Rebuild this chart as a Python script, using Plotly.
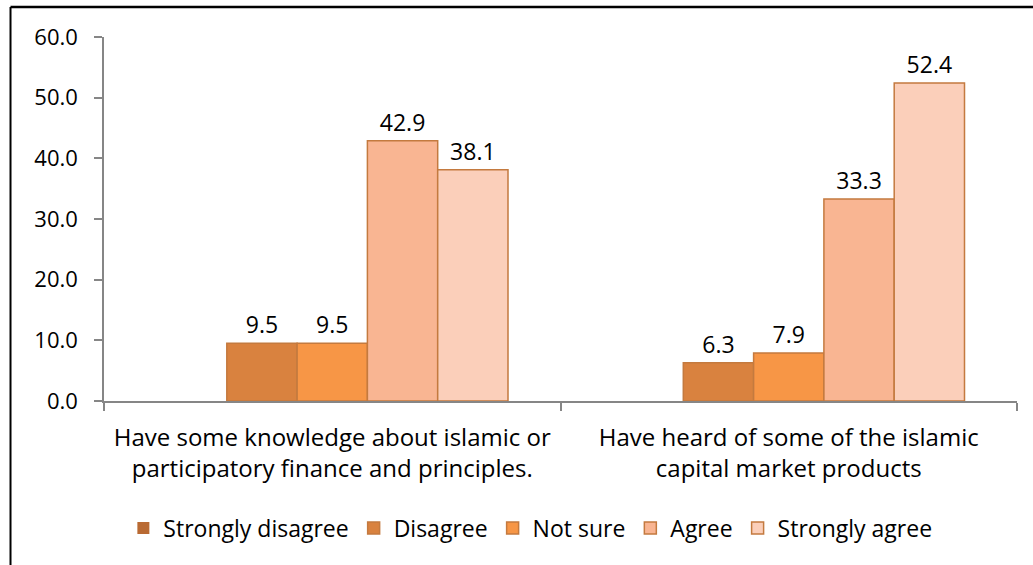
import plotly.graph_objects as go

# Survey statements (category axis) and response shares in percent
statements = [
    "Have some knowledge about islamic or<br>participatory finance and principles.",
    "Have heard of some of the islamic<br>capital market products",
]
responses = ["Strongly disagree", "Disagree", "Not sure", "Agree", "Strongly agree"]
strongly_disagree = [0.0, 0.0]
disagree = [9.5, 6.3]
not_sure = [9.5, 7.9]
agree = [42.9, 33.3]
strongly_agree = [38.1, 52.4]

series = [strongly_disagree, disagree, not_sure, agree, strongly_agree]
fills = ["#B96A33", "#D9823F", "#F79646", "#F9B592", "#FBCFBA"]
edges = ["#B96A33", "#C47A3F", "#C47A3F", "#C47A3F", "#C47A3F"]
edge_widths = [0, 1.5, 1.5, 1.5, 1.5]

FONT = "Open Sans"

fig = go.Figure()
for name, vals, fill, ec, ew in zip(responses, series, fills, edges, edge_widths):
    labels = [f"{v:.1f}" if v > 0 else "" for v in vals]
    fig.add_trace(go.Bar(
        name=name,
        x=statements,
        y=vals,
        text=labels,
        texttemplate="%{text}",
        textposition="outside",
        textfont=dict(family=FONT, size=23, color="#000000"),
        cliponaxis=False,
        marker=dict(color=fill, line=dict(color=ec, width=ew)),
    ))

# frame lines around the chart region
fig.add_shape(type="line", xref="paper", yref="paper",
              x0=-0.1024, x1=1.05, y0=1.0824, y1=1.0824,
              line=dict(color="#000000", width=2.5))
fig.add_shape(type="line", xref="paper", yref="paper",
              x0=-0.1024, x1=-0.1024, y0=1.0824, y1=-0.46,
              line=dict(color="#000000", width=2))

fig.update_layout(
    width=1033, height=565,
    margin=dict(l=104, r=16, t=37, b=164),
    paper_bgcolor="#FFFFFF",
    plot_bgcolor="#FFFFFF",
    barmode="group",
    bargap=0.23,
    bargroupgap=0,
    font=dict(family=FONT, color="#000000"),
    showlegend=True,
    legend=dict(
        orientation="h",
        x=0.467, xanchor="center",
        y=-0.349, yanchor="middle",
        font=dict(family=FONT, size=23, color="#000000"),
        itemwidth=30,
        traceorder="normal",
    ),
    xaxis=dict(
        showline=True, linecolor="#868686", linewidth=1.5,
        ticks="outside", tickson="boundaries", ticklen=8,
        tickcolor="#868686", tickwidth=1.5,
        tickfont=dict(family=FONT, size=24, color="#000000"),
        ticklabelstandoff=14,
        showgrid=False,
    ),
    yaxis=dict(
        range=[0, 60], dtick=10, tickformat=".1f",
        showline=True, linecolor="#868686", linewidth=1.5,
        ticks="outside", ticklen=8, tickcolor="#868686", tickwidth=1.5,
        tickfont=dict(family=FONT, size=22, color="#000000"),
        ticklabelstandoff=12,
        showgrid=False, zeroline=False,
    ),
)

fig.write_html("out.html")
